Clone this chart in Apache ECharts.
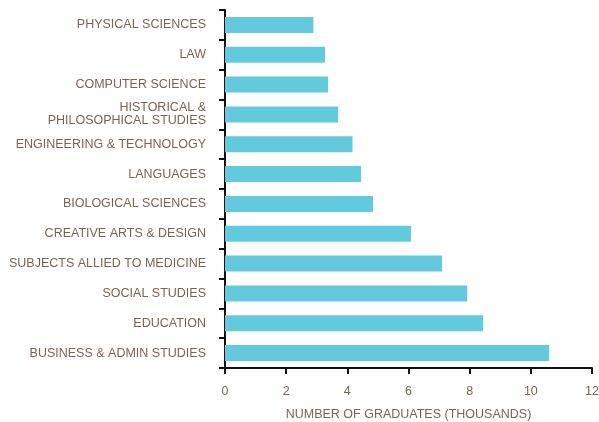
<!DOCTYPE html>
<html>
<head>
<meta charset="utf-8">
<script src="https://cdn.jsdelivr.net/npm/echarts@6/dist/echarts.min.js"></script>
<style>
  html, body { margin: 0; padding: 0; background: #fff; }
  #chart { width: 599px; height: 422px; }
</style>
</head>
<body>
<div id="chart"></div>
<script>
// categories bottom to top
var subjects = [
    'BUSINESS & ADMIN STUDIES',
    'EDUCATION',
    'SOCIAL STUDIES',
    'SUBJECTS ALLIED TO MEDICINE',
    'CREATIVE ARTS & DESIGN',
    'BIOLOGICAL SCIENCES',
    'LANGUAGES',
    'ENGINEERING & TECHNOLOGY',
    'HISTORICAL &\nPHILOSOPHICAL STUDIES',
    'COMPUTER SCIENCE',
    'LAW',
    'PHYSICAL SCIENCES'
];
var graduates = [10.6, 8.44, 7.92, 7.1, 6.08, 4.84, 4.45, 4.17, 3.7, 3.37, 3.27, 2.89];
var xTicks = [0, 2, 4, 6, 8, 10, 12];

var textColor = '#7b6352';
var chart = echarts.init(document.getElementById('chart'));

var option = {
    animation: false,
    grid: {
        left: 225,
        right: 7,
        top: 10,
        bottom: 54,
        outerBoundsMode: 'none'
    },
    xAxis: {
        type: 'value',
        min: xTicks[0],
        max: xTicks[xTicks.length - 1],
        interval: 2,
        name: 'NUMBER OF GRADUATES (THOUSANDS)',
        nameLocation: 'middle',
        nameGap: 40,
        nameTextStyle: {
            color: textColor,
            fontSize: 12.5,
            fontFamily: 'Liberation Sans'
        },
        splitLine: { show: false },
        axisLine: {
            show: true,
            lineStyle: { color: '#111', width: 2 }
        },
        axisTick: {
            show: true,
            length: 6,
            lineStyle: { color: '#111', width: 2 }
        },
        axisLabel: {
            color: textColor,
            fontSize: 12.5,
            fontFamily: 'Liberation Sans',
            margin: 17
        }
    },
    yAxis: {
        type: 'category',
        data: subjects,
        axisLine: {
            show: true,
            lineStyle: { color: '#111', width: 2 }
        },
        axisTick: {
            show: true,
            length: 6,
            lineStyle: { color: '#111', width: 2 }
        },
        axisLabel: {
            color: textColor,
            fontSize: 12.5,
            fontFamily: 'Liberation Sans',
            margin: 19,
            lineHeight: 13,
            interval: 0
        }
    },
    series: [
        {
            type: 'bar',
            data: graduates,
            barWidth: 16,
            itemStyle: { color: '#63cade' }
        }
    ]
};
chart.setOption(option);
</script>
</body>
</html>
